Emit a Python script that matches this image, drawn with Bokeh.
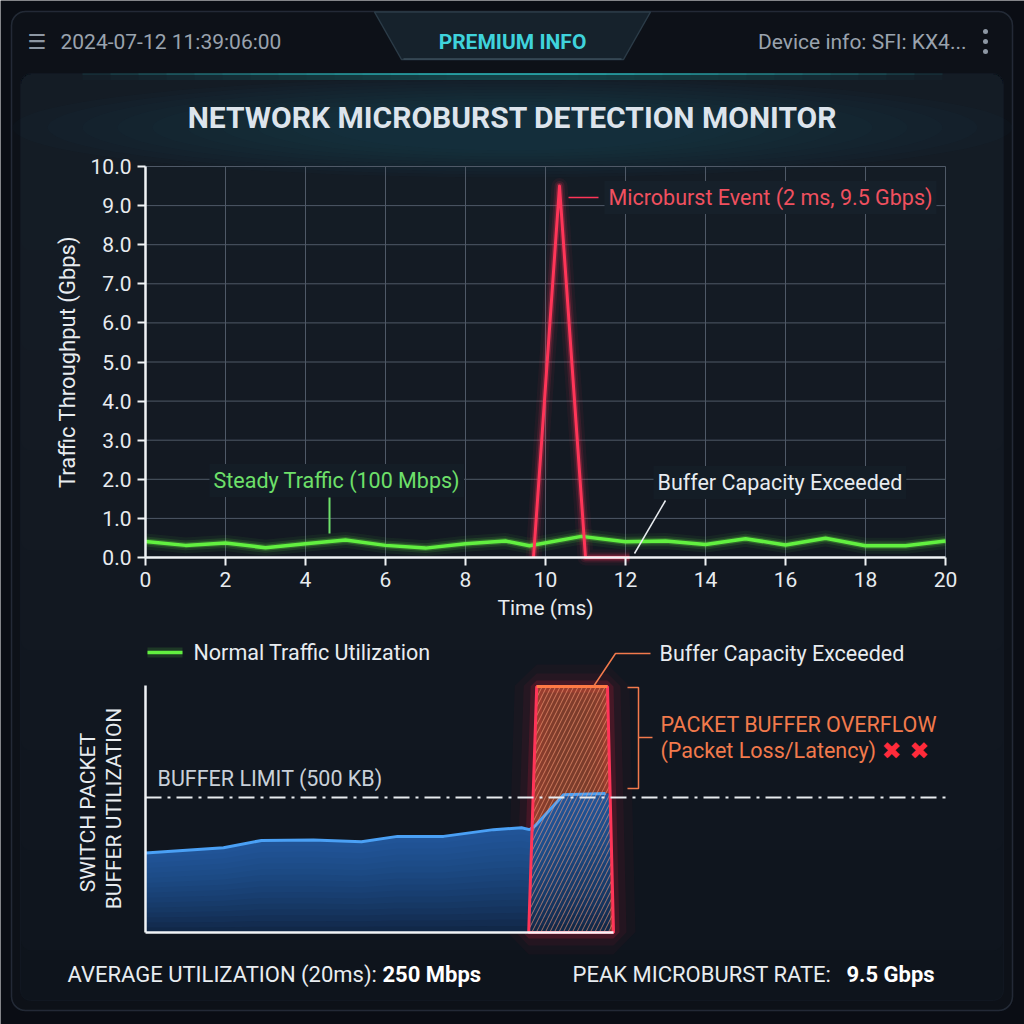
import math
from bokeh.plotting import figure
from bokeh.models import Range1d, FixedTicker, Label, BoxAnnotation, LinearAxis
from bokeh.embed import file_html
from bokeh.resources import INLINE

# ---------------- data ----------------
time_ticks = [0, 2, 4, 6, 8, 10, 12, 14, 16, 18, 20]
time_tick_labels = ["0", "2", "4", "6", "8", "10", "12", "14", "16", "18", "20"]
gbps_ticks = [0, 1, 2, 3, 4, 5, 6, 7, 8, 9, 10]
gbps_tick_labels = ["0.0", "1.0", "2.0", "3.0", "4.0", "5.0", "6.0", "7.0", "8.0", "9.0", "10.0"]

normal_t = [0, 1, 2, 3, 4, 5, 6, 7, 8, 9, 9.6, 10.9, 12, 13, 14, 15, 16, 17, 18, 19, 20]
normal_gbps = [0.41, 0.31, 0.37, 0.25, 0.35, 0.45, 0.31, 0.24, 0.35, 0.42, 0.30, 0.54,
               0.40, 0.42, 0.33, 0.48, 0.32, 0.49, 0.30, 0.30, 0.42]

burst_t = [9.7, 10.35, 11.0, 12.1]
burst_gbps = [0.0, 9.5, 0.0, 0.0]

buffer_t = [0, 1.95, 2.9, 4.2, 5.4, 6.3, 7.45, 8.7, 9.4, 9.6, 9.75, 10.45, 11.5, 11.62]
buffer_kb = [294, 314, 341, 343, 336, 356, 356, 381, 388, 381, 396, 510, 515, 515]

overflow_t = [9.58, 9.78, 11.55, 11.7]
overflow_kb = [0, 911, 911, 0]

buffer_limit_kb = 500
buffer_axis_max_kb = 915
time_span_ms = [0, 20]
gbps_span = [0, 10]

# ---------------- colours ----------------
PAGE = "#0a0d14"
OUTER = "#0d1118"
INNER = "#0e141c"
FADE = "#1c2935"
BORDER = "#3b4755"
TXT = "#e8ecf0"
GREY = "#9aa3ae"
GREEN = "#62f040"
RED = "#ff3558"
ORANGE = "#f27a4c"
FONT = "Roboto"
FADE_BOTTOMS = [250, 350, 450, 550, 650, 750, 850, 950]
FADE_ALPHA = 0.1


def hex2rgb(h):
    return [int(h[i:i + 2], 16) for i in (1, 3, 5)]


def bg_at(py):
    """composite inner panel colour at page row py (for label backgrounds)"""
    c = hex2rgb(INNER)
    f = hex2rgb(FADE)
    for b in FADE_BOTTOMS:
        if py < b:
            c = [ci + (fi - ci) * FADE_ALPHA for ci, fi in zip(c, f)]
    return "#%02x%02x%02x" % tuple(int(round(v)) for v in c)


# ---------------- figure: frame = whole canvas ----------------
# chart x: 0 ms at px 145, 40 px per ms ; top chart y: 0 Gbps at py 557, 39.1 px per Gbps
# bottom chart y: 0 KB at py 932, 0.27 px per KB
P = figure(width=1024, height=1024,
           x_range=Range1d(-145 / 40.0, (1024 - 145) / 40.0),
           y_range=Range1d((557 - 1024) / 39.1, 557 / 39.1),
           x_axis_type=None, y_axis_type=None, toolbar_location=None, output_backend="svg",
           min_border=0, outline_line_color=None,
           background_fill_color=PAGE, border_fill_color=PAGE)
P.extra_x_ranges = {"px": Range1d(0, 1024)}
P.extra_y_ranges = {"py": Range1d(1024, 0),
                    "kb": Range1d((932 - 1024) / 0.27, 932 / 0.27)}
PX = dict(x_range_name="px", y_range_name="py")

# ---------------- panels ----------------
P.add_layout(BoxAnnotation(left=11, right=1012, top=11, bottom=1010, border_radius=14,
                           fill_color=OUTER, fill_alpha=1, line_color=BORDER, line_width=1.5,
                           level="underlay", **PX))
P.add_layout(BoxAnnotation(left=20, right=1003, top=73, bottom=1000, border_radius=10,
                           fill_color=INNER, fill_alpha=1, line_color="#1c2631", line_width=1,
                           level="underlay", **PX))
for b in FADE_BOTTOMS:
    P.add_layout(BoxAnnotation(left=20.5, right=1002.5, top=73.5, bottom=b, border_radius=10,
                               fill_color=FADE, fill_alpha=FADE_ALPHA, line_color=None,
                               level="underlay", **PX))
P.add_layout(BoxAnnotation(left=11, right=1012, top=11, bottom=1010, border_radius=14,
                           fill_alpha=0, line_color=BORDER, line_width=1.5, level="underlay", **PX))

# soft teal glow around the title
for k in range(10):
    w = 1000 - k * 70
    h = 100 - k * 6
    P.ellipse(x=512, y=127, width=w, height=h, fill_color="#2a8a98", fill_alpha=0.022,
              line_color=None, **PX)
# cyan highlight along inner panel top
for k in range(14):
    half = 430 - k * 28
    P.segment(x0=512 - half, y0=73.5, x1=512 + half, y1=73.5, line_color="#3ad8da",
              line_alpha=0.075, line_width=2, **PX)
    P.segment(x0=512 - half, y0=76.5, x1=512 + half, y1=76.5, line_color="#3ad8da",
              line_alpha=0.018, line_width=6, **PX)
# tab
P.patch(x=[374, 650, 623, 401], y=[11.5, 11.5, 59, 59], fill_color="#16222c", line_color="#2b3b47",
        line_width=1.5, **PX)
P.line([403, 621], [58.5, 58.5], line_color="#3a4d59", line_width=1.5, **PX)
# dots icon
P.scatter(x=[985, 985, 985], y=[31, 41, 51], size=5, fill_color="#8d97a3", line_color=None, **PX)

P.add_layout(Label(x=27, y=41, text="☰", text_font="DejaVu Sans", text_font_size="21px",
                   text_color="#8d97a3", text_baseline="middle", **PX))
P.add_layout(Label(x=60, y=41, text="2024-07-12 11:39:06:00", text_font=FONT, text_font_size="21px",
                   text_color=GREY, text_baseline="middle", **PX))
P.add_layout(Label(x=512, y=41, text="PREMIUM INFO", text_font=FONT, text_font_size="21px",
                   text_font_style="bold", text_color="#3fd3dc", text_align="center",
                   text_baseline="middle", **PX))
P.add_layout(Label(x=966, y=41, text="Device info: SFI: KX4...", text_font=FONT, text_font_size="21px",
                   text_color=GREY, text_align="right", text_baseline="middle", **PX))
P.add_layout(Label(x=512, y=117, text="NETWORK MICROBURST DETECTION MONITOR", text_font=FONT,
                   text_font_size="30px", text_font_style="bold", text_color="#dde4ec",
                   text_align="center", text_baseline="middle", **PX))

# ---------------- top chart ----------------
GRID = "#4f5967"
P.segment(x0=time_ticks, y0=gbps_span[0], x1=time_ticks, y1=gbps_span[1], line_color=GRID, line_width=1)
P.segment(x0=time_span_ms[0], y0=gbps_ticks, x1=time_span_ms[1], y1=gbps_ticks, line_color=GRID, line_width=1)


def style_axis(ax):
    ax.axis_line_color = "#f0f3f6"
    ax.axis_line_width = 2.5
    ax.major_tick_line_color = "#f0f3f6"
    ax.major_tick_line_width = 2
    ax.major_tick_out = 8
    ax.major_tick_in = 0
    ax.minor_tick_line_color = None
    ax.major_label_text_color = TXT
    ax.major_label_text_font = FONT
    ax.major_label_text_font_size = "21px"
    ax.major_label_standoff = 6
    ax.axis_label_text_color = TXT
    ax.axis_label_text_font = FONT
    ax.axis_label_text_font_style = "normal"


xa = LinearAxis(fixed_location=0, bounds=(time_span_ms[0], time_span_ms[1]),
                ticker=FixedTicker(ticks=time_ticks),
                major_label_overrides={t: l for t, l in zip(time_ticks, time_tick_labels)},
                axis_label="Time (ms)")
style_axis(xa)
xa.axis_label_text_font_size = "21px"
xa.axis_label_standoff = 6
P.add_layout(xa, "below")

ya = LinearAxis(fixed_location=0, bounds=(gbps_span[0], gbps_span[1]),
                ticker=FixedTicker(ticks=gbps_ticks),
                major_label_overrides={t: l for t, l in zip(gbps_ticks, gbps_tick_labels)},
                axis_label="Traffic Throughput (Gbps)")
style_axis(ya)
ya.axis_label_text_font_size = "22px"
ya.axis_label_standoff = 8
P.add_layout(ya, "left")

for w, a in [(16, 0.06), (10, 0.12), (6, 0.25)]:
    P.line(normal_t, normal_gbps, line_color=GREEN, line_width=w, line_alpha=a, line_join="round")
    P.line(burst_t, burst_gbps, line_color=RED, line_width=w, line_alpha=a, line_join="round")
P.line(normal_t, normal_gbps, line_color=GREEN, line_width=3.5, line_join="round")
P.line(burst_t, burst_gbps, line_color=RED, line_width=3, line_join="round")

P.line([568, 598], [197, 197], line_color=RED, line_width=1.5, **PX)
P.add_layout(Label(x=604, y=197, text="Microburst Event (2 ms, 9.5 Gbps)", text_font=FONT,
                   text_font_size="21.5px", text_color="#f0505f", text_baseline="middle",
                   background_fill_color=bg_at(197), background_fill_alpha=1, padding=4, **PX))
P.line([329, 329], [497, 533], line_color="#6ee06a", line_width=2, **PX)
P.add_layout(Label(x=209, y=480, text="Steady Traffic (100 Mbps)", text_font=FONT,
                   text_font_size="21.5px", text_color="#6ee06a", text_baseline="middle",
                   background_fill_color=bg_at(480), background_fill_alpha=1, padding=4, **PX))
P.line([665, 634], [500, 553], line_color=TXT, line_width=1.5, **PX)
P.add_layout(Label(x=653, y=482, text="Buffer Capacity Exceeded", text_font=FONT,
                   text_font_size="21.5px", text_color=TXT, text_baseline="middle",
                   background_fill_color=bg_at(482), background_fill_alpha=1, padding=4, **PX))

# ---------------- bottom chart ----------------
KB = dict(y_range_name="kb")
bya = LinearAxis(y_range_name="kb", fixed_location=0, bounds=(0, buffer_axis_max_kb),
                 ticker=FixedTicker(ticks=[]))
bxa = LinearAxis(y_range_name="kb", fixed_location=0, bounds=(0, overflow_t[-1]),
                 ticker=FixedTicker(ticks=[]))
for ax in (bya, bxa):
    ax.axis_line_color = "#f0f3f6"
    ax.axis_line_width = 2.5
    ax.major_tick_out = 0
    ax.major_tick_in = 0
    ax.minor_tick_line_color = None
    ax.major_label_text_font_size = "0px"
P.add_layout(bya, "left")
P.add_layout(bxa, "below")

# red glow haze
for w, a in [(44, 0.035), (26, 0.06), (12, 0.15)]:
    P.patch(overflow_t, overflow_kb, fill_alpha=0, line_color="#ff1f45", line_width=w, line_alpha=a, **KB)
P.patch(overflow_t, overflow_kb, fill_color="#ff6a3a", fill_alpha=0.45, line_color=None, **KB)

# buffer area with layered gradient
P.varea(x=buffer_t, y1=0, y2=buffer_kb, fill_color="#0f2340", fill_alpha=1, **KB)
N_LAYERS = 16
for k in range(1, N_LAYERS + 1):
    f = k / float(N_LAYERS)
    P.varea(x=buffer_t, y1=[v * (1 - f) for v in buffer_kb], y2=buffer_kb,
            fill_color="#3f86d6", fill_alpha=0.055, **KB)
P.line(buffer_t[:-1], buffer_kb[:-1], line_color="#4aa0f5", line_width=3, **KB)

P.patch(overflow_t, overflow_kb, fill_alpha=0, line_color=None, hatch_pattern="/",
        hatch_color="#ffa07a", hatch_alpha=0.6, hatch_scale=9, hatch_weight=1, **KB)
P.patch(overflow_t, overflow_kb, fill_alpha=0, line_color=RED, line_width=3, **KB)
P.line(overflow_t[1:3], overflow_kb[1:3], line_color="#ff7a45", line_width=3, **KB)

# buffer limit line
P.line(time_span_ms, [buffer_limit_kb, buffer_limit_kb], line_color="#e8ecef",
       line_width=2, line_dash="16 6 3 6", **KB)
P.add_layout(Label(x=157, y=778, text="BUFFER LIMIT (500 KB)", text_font=FONT,
                   text_font_size="21.5px", text_color="#c8d0d9", text_baseline="middle", **PX))

# legend
for w, a in [(10, 0.15), (3.5, 1)]:
    P.line([147, 182], [652, 652], line_color=GREEN, line_width=w, line_alpha=a, **PX)
P.add_layout(Label(x=193, y=652, text="Normal Traffic Utilization", text_font=FONT,
                   text_font_size="21.5px", text_color=TXT, text_baseline="middle", **PX))

# overflow annotations
P.line([593, 615, 650], [686, 653, 653], line_color=ORANGE, line_width=1.5, **PX)
P.add_layout(Label(x=659, y=653, text="Buffer Capacity Exceeded", text_font=FONT,
                   text_font_size="21.5px", text_color=TXT, text_baseline="middle", **PX))
P.line([627, 638, 638, 627], [687, 687, 788, 788], line_color=ORANGE, line_width=1.5, **PX)
P.line([638, 652], [737, 737], line_color=ORANGE, line_width=1.5, **PX)
P.add_layout(Label(x=660, y=724, text="PACKET BUFFER OVERFLOW", text_font=FONT,
                   text_font_size="21.5px", text_color=ORANGE, text_baseline="middle", **PX))
P.add_layout(Label(x=660, y=750, text="(Packet Loss/Latency)", text_font=FONT,
                   text_font_size="21.5px", text_color=ORANGE, text_baseline="middle", **PX))
P.add_layout(Label(x=881, y=750, text="✖ ✖", text_font="DejaVu Sans",
                   text_font_size="24px", text_color="#ff2b3b", text_baseline="middle", **PX))

# rotated axis title
P.add_layout(Label(x=87, y=812, text="SWITCH PACKET", text_font=FONT, angle=math.pi / 2,
                   text_font_size="21px", text_color=TXT, text_align="center",
                   text_baseline="middle", **PX))
P.add_layout(Label(x=113, y=808, text="BUFFER UTILIZATION", text_font=FONT, angle=math.pi / 2,
                   text_font_size="21px", text_color=TXT, text_align="center",
                   text_baseline="middle", **PX))

# footer
P.add_layout(Label(x=67, y=974, text="AVERAGE UTILIZATION (20ms):", text_font=FONT,
                   text_font_size="22px", text_color=TXT, text_baseline="middle", **PX))
P.add_layout(Label(x=382, y=974, text="250 Mbps", text_font=FONT, text_font_style="bold",
                   text_font_size="22px", text_color="#ffffff", text_baseline="middle", **PX))
P.add_layout(Label(x=572, y=974, text="PEAK MICROBURST RATE:", text_font=FONT,
                   text_font_size="22px", text_color=TXT, text_baseline="middle", **PX))
P.add_layout(Label(x=846, y=974, text="9.5 Gbps", text_font=FONT, text_font_style="bold",
                   text_font_size="22px", text_color="#ffffff", text_baseline="middle", **PX))

open("out.html", "w").write(file_html(P, INLINE))
